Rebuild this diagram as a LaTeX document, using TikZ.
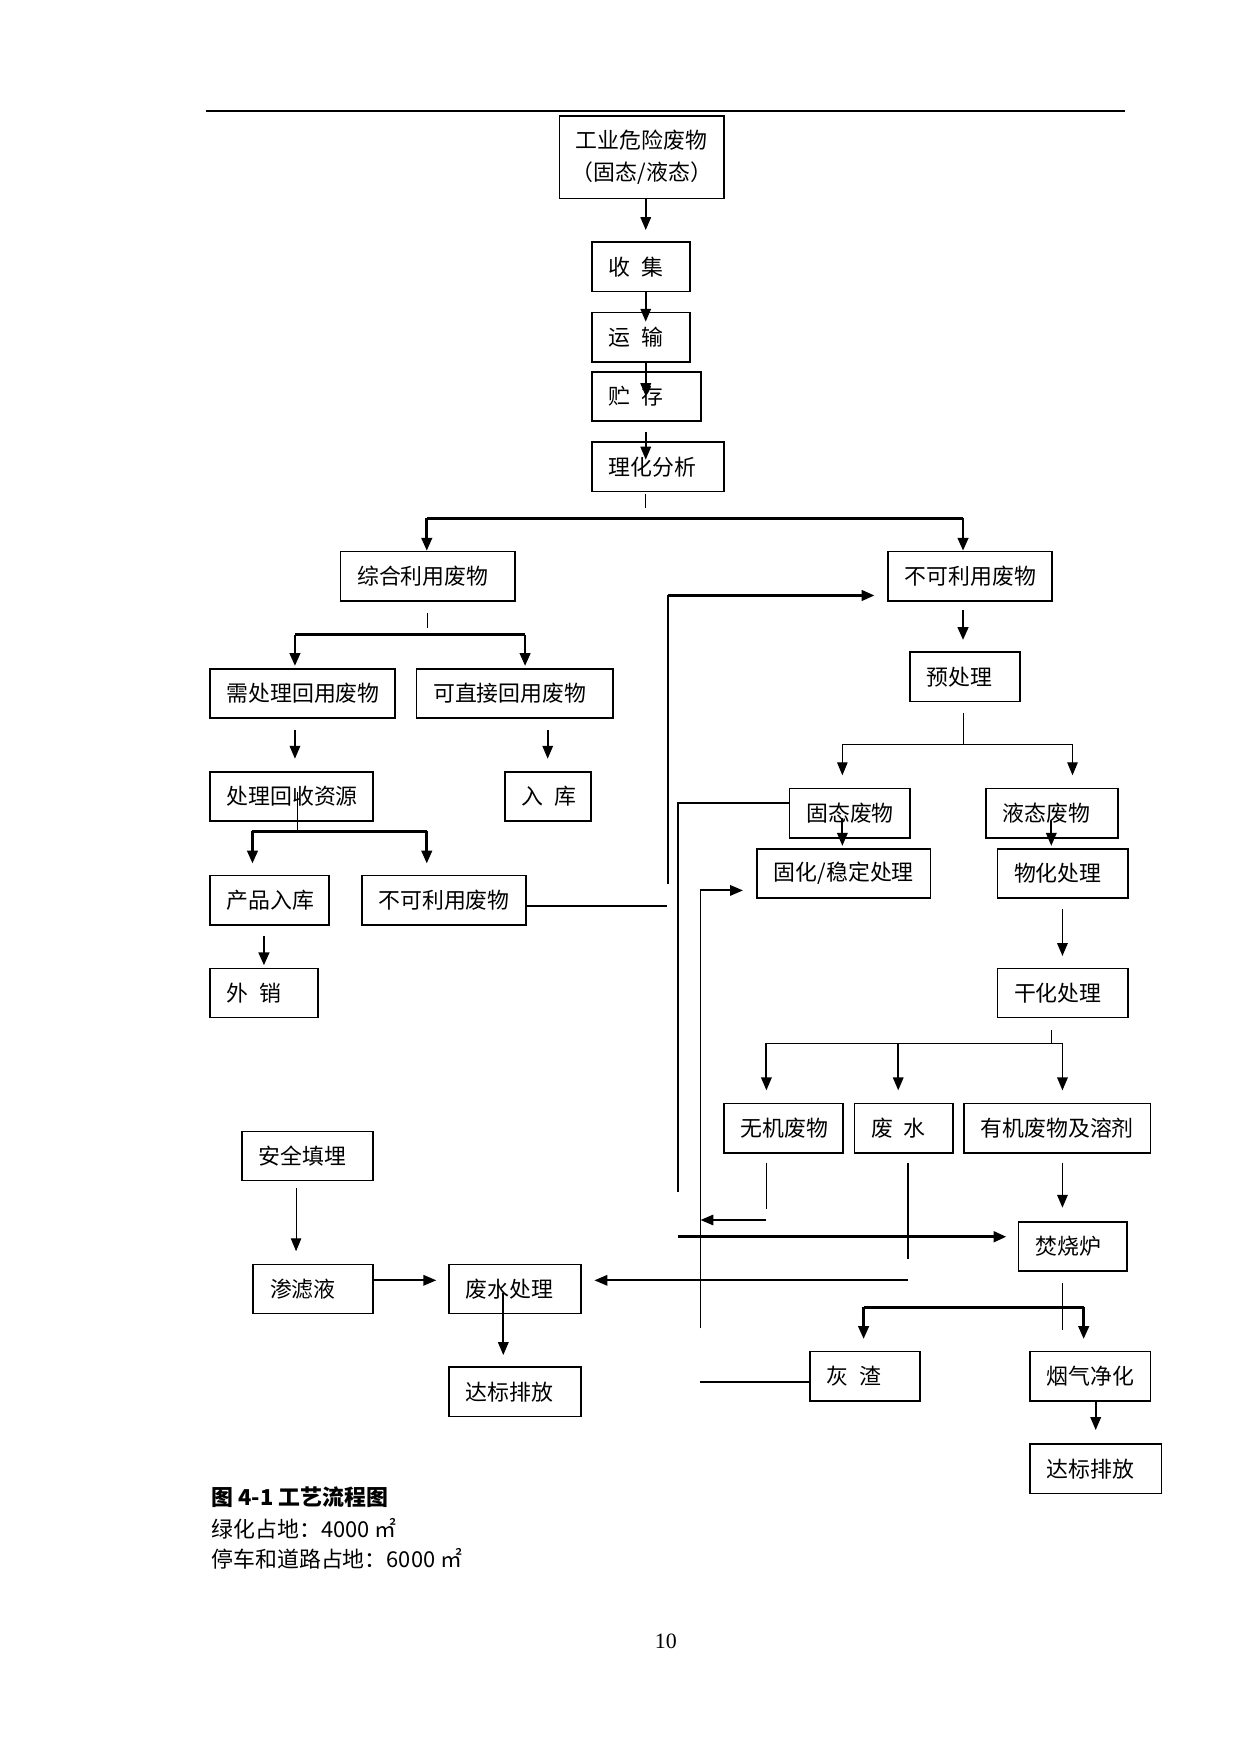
\documentclass[tikz,border=0pt]{standalone}
\usepackage{fontspec}
\setmainfont{Liberation Serif}
\newfontfamily\cjk{Noto Sans CJK SC}
\usetikzlibrary{arrows.meta}

\begin{document}
\begin{tikzpicture}[x=0.5358pt,y=-0.5358pt,>={Triangle[length=6.2pt,width=5pt]},
    box/.style={draw,line width=0.8pt,anchor=north west,font={\cjk\fontsize{10.5pt}{15.8pt}\selectfont},
      inner xsep=8pt,inner ysep=0pt,minimum height=23.6pt,text width=#1*0.5358pt-16pt,align=left},
    thinline/.style={line width=0.5pt},
    conn/.style={line width=0.9pt},
    thickline/.style={line width=1.35pt},
    heavyline/.style={line width=1.6pt}]
  \useasboundingbox (0,0) rectangle (1111,1570);
  \draw[line width=1pt] (184,99.5) -- (1007,99.5);
  % boxes
  \node[box=147,text width=66.8pt,inner xsep=6pt,align=center,minimum height=39.6pt] (src) at (500,103) {工业危险废物\\（固态/液态）};
  \node[box=88] (col) at (529,216) {收\enspace 集};
  \node[box=88] (tra) at (529,279) {运\enspace 输};
  \node[box=98] (sto) at (529,332) {贮\enspace 存};
  \node[box=118] (ana) at (529,395) {理化分析};
  \node[box=156] (reu) at (304,493) {综合利用废物};
  \node[box=147] (nru) at (794,493) {不可利用废物};
  \node[box=98] (pre) at (814,583) {预处理};
  \node[box=166] (ntr) at (187,598) {需处理回用废物};
  \node[box=176] (dir) at (372,598) {可直接回用废物};
  \node[box=146] (rec) at (187,690) {处理回收资源};
  \node[box=77] (ink) at (451,690) {入\enspace 库};
  \node[box=107] (prd) at (187,783) {产品入库};
  \node[box=147] (nr2) at (323,783) {不可利用废物};
  \node[box=97] (sal) at (187,866) {外\enspace 销};
  \node[box=108] (sol) at (706,705) {固态废物};
  \node[box=118] (liq) at (882,705) {液态废物};
  \node[box=155] (stb) at (677,759) {固化/稳定处理};
  \node[box=117] (phc) at (892,759) {物化处理};
  \node[box=117] (dry) at (892,866) {干化处理};
  \node[box=107] (ino) at (647,987) {无机废物};
  \node[box=88] (wwt) at (764,987) {废\enspace 水};
  \node[box=167] (org) at (862,987) {有机废物及溶剂};
  \node[box=97] (inc) at (911,1093) {焚烧炉};
  \node[box=99] (ash) at (724,1209) {灰\enspace 渣};
  \node[box=108] (flu) at (921,1209) {烟气净化};
  \node[box=118] (dis2) at (921,1292) {达标排放};
  \node[box=117] (lnd) at (216,1012) {安全填埋};
  \node[box=107] (lea) at (226,1131) {渗滤液};
  \node[box=118] (wtr) at (401,1131) {废水处理};
  \node[box=118] (dis1) at (401,1223) {达标排放};
  % junctions
  \coordinate (ax) at (578,0);
  \coordinate (ax2) at (941,0);
  \coordinate (ax3) at (265,0);
  \coordinate (ax4) at (450.5,1157);
  \coordinate (b1l) at (382,464);
  \coordinate (b1r) at (862,464);
  \coordinate (b2l) at (264,568);
  \coordinate (b2r) at (470,568);
  \coordinate (b3l) at (226,744);
  \coordinate (b3m) at (266,744);
  \coordinate (b3r) at (382,744);
  \coordinate (b4l) at (754,666);
  \coordinate (b4r) at (960,666);
  \coordinate (b5l) at (686,934);
  \coordinate (b5m) at (804,934);
  \coordinate (b5r) at (951,934);
  \coordinate (b6l) at (773,1170);
  \coordinate (b6r) at (970,1170);
  \coordinate (jT) at (598,533);
  \coordinate (jB) at (598,791);
  \coordinate (jL) at (597,811);
  \coordinate (jS) at (607,719);
  \coordinate (jSb) at (607,1067);
  \coordinate (jF) at (627,797);
  \coordinate (jFb) at (627,1189);
  \coordinate (jI) at (686,1092);
  \coordinate (jH) at (607,1107);
  \coordinate (jW) at (813,1146);
  \coordinate (jA) at (627,1237);
  % main line
  \draw[conn,->,shorten >=5.4pt] (src.south -| ax) -- (col.north -| ax);
  \draw[conn,->,shorten >=-4.8pt] (col.south -| ax) -- (tra.north -| ax);
  \draw[conn,->,shorten >=-12.1pt] (tra.south -| ax) -- (sto.north -| ax);
  \draw[conn,->,shorten <=5.1pt,shorten >=-8.8pt] (sto.south -| ax) -- (ana.north -| ax);
  \draw[thinline] (ana.south -| ax) ++(0,2) -- ++(0,12.5);
  \draw[thickline] (b1l) -- (b1r);
  \draw[thickline,->] (b1l) -- (b1l |- reu.north);
  \draw[thickline,->] (b1r) -- (b1r |- nru.north);
  % left part
  \draw[thinline] (reu.south) ++(0,10) -- ++(0,14);
  \draw[thickline] (b2l) -- (b2r);
  \draw[thickline,->,shorten >=1pt] (b2l) -- (b2l |- ntr.north);
  \draw[thickline,->,shorten >=1pt] (b2r) -- (b2r |- dir.north);
  \draw[conn,->,shorten <=5.4pt,shorten >=5.8pt] (b2l |- ntr.south) -- (b2l |- rec.north);
  \draw[conn,->,shorten <=5.4pt,shorten >=5.8pt] (ink.north |- dir.south) -- (ink.north);
  \draw[thinline] (b3m) -- ++(0,-35);
  \draw[thickline] (b3l) -- (b3r);
  \draw[thickline,->,shorten >=5.4pt] (b3l) -- (b3l |- prd.north);
  \draw[thickline,->,shorten >=5.4pt] (b3r) -- (b3r |- nr2.north);
  \draw[thickline,->,shorten <=5.2pt,shorten >=1pt] (sal.north |- prd.south) -- (sal.north);
  \draw[conn] (nr2.east |- jL) -- (jL);
  \draw[conn] (jB) -- (jT);
  \draw[thickline,->,shorten >=6pt] (jT) -- (nru.west |- jT);
  % right part
  \draw[thickline,->,shorten <=3.8pt,shorten >=5.4pt] (b1r |- nru.south) -- (b1r |- pre.north);
  \draw[thinline] (b1r |- pre.south) ++(0,10) -- (b1r |- b4l);
  \draw[thinline] (b4l) -- (b4r);
  \draw[thinline,->,shorten >=5.9pt] (b4l) -- (b4l |- sol.north);
  \draw[thinline,->,shorten >=5.9pt] (b4r) -- (b4r |- liq.north);
  \draw[conn,->,shorten >=1pt] (b4l |- sol.south) ++(0,-18) -- (b4l |- stb.north);
  \draw[conn,->,shorten >=1pt] (ax2 |- liq.south) ++(0,-16) -- (ax2 |- phc.north);
  \draw[conn] (sol.west |- jS) -- (jS) -- (jSb);
  \draw[conn,->,shorten >=6.4pt] (jFb) -- (jF) -- (stb.west |- jF);
  \draw[conn,->,shorten <=5.1pt,shorten >=5.5pt] (b5r |- phc.south) -- (b5r |- dry.north);
  \draw[thinline] (ax2 |- dry.south) ++(0,10) -- (ax2 |- b5l);
  \draw[conn] (b5l) -- (b5r);
  \draw[conn,->,shorten >=5.9pt] (b5l) -- (b5l |- ino.north);
  \draw[conn,->,shorten >=5.9pt] (b5m) -- (b5m |- wwt.north);
  \draw[conn,->,shorten >=5.9pt] (b5r) -- (b5r |- org.north);
  \draw[thinline] (b5l |- ino.south) ++(0,8) -- ++(0,42);
  \draw[conn,->] (jI) -- (jI -| jF);
  \draw[conn] (jW |- wwt.south) ++(0,8) -- ++(0,86);
  \draw[conn,->,shorten >=6.2pt] (jW) -- (wtr.east |- jW);
  \draw[heavyline,->,shorten >=5.4pt] (jH) -- (inc.west |- jH);
  \draw[conn,->,shorten >=6.4pt] (b5r |- org.south) ++(0,8) -- (b5r |- inc.north);
  \draw[thinline] (b5r |- inc.south) ++(0,10) -- ++(0,42);
  \draw[thickline] (b6l) -- (b6r);
  \draw[thickline,->,shorten >=5.6pt] (b6l) -- (b6l |- ash.north);
  \draw[thickline,->,shorten >=5.6pt] (b6r) -- (b6r |- flu.north);
  \draw[thinline] (jA) -- (ash.west |- jA);
  \draw[conn,->,shorten >=6.4pt] (dis2.north |- flu.south) -- (dis2.north);
  % landfill
  \draw[thinline,->,shorten <=3.2pt,shorten >=5.9pt] (lnd.south -| ax3) -- (lea.north -| ax3);
  \draw[conn,->,shorten >=5.6pt] (lea.east |- jW) -- (wtr.west |- jW);
  \draw[conn,->,shorten >=5.4pt] (ax4) -- (ax4 |- dis1.north);
  % caption
  \node[anchor=west,inner sep=0pt,font={\cjk\bfseries\fontsize{10.5pt}{12pt}\selectfont}] (cap) at (189,1340) {图 4-1 工艺流程图};
  \node[anchor=west,inner sep=0pt,font={\cjk\fontsize{10.5pt}{12pt}\selectfont}] (gre) at (189,1368) {绿化占地：4000 ㎡};
  \node[anchor=west,inner sep=0pt,font={\cjk\fontsize{10.5pt}{12pt}\selectfont}] (par) at (189,1395) {停车和道路占地：6000 ㎡};
  \node[inner sep=0pt,font={\fontsize{10.5pt}{12pt}\selectfont}] (pg) at (596,1469) {10};
\end{tikzpicture}
\end{document}
